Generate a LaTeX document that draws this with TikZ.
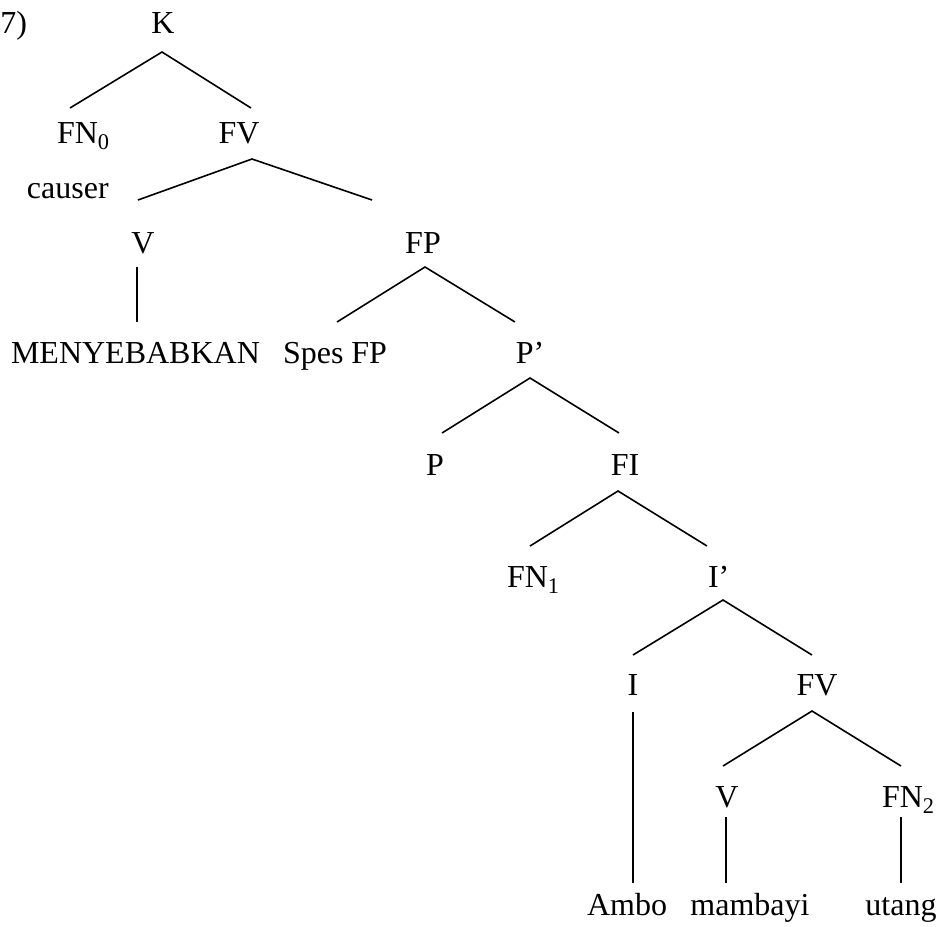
\documentclass[tikz,border=0pt]{standalone}
\usepackage{fontspec}
\setmainfont{Liberation Serif}
\begin{document}
\begin{tikzpicture}[x=1pt,y=-1pt,
  lbl/.style={inner sep=0pt,outer sep=0pt,font=\fontsize{32}{38}\selectfont,anchor=base},
  lblw/.style={lbl,anchor=base west},
  branch/.style={line width=1.6pt,line cap=butt}]
\useasboundingbox (0,0) rectangle (942,926);

% labels
\node[lblw] (num) at (0.5,33) {7)};
\node[lbl] (K) at (163,33) {K};
\node[lblw] (FN0) at (57,143) {FN\textsubscript{0}};
\node[lbl] (FVa) at (239,143) {FV};
\node[lblw] (causer) at (27,198) {causer};
\node[lbl] (Va) at (143,253) {V};
\node[lbl] (FP) at (423,253) {FP};
\node[lblw] (MEN) at (11,363) {MENYEBABKAN};
\node[lblw] (Spes) at (283,363) {Spes FP};
\node[lbl] (Pbar) at (530,363) {P’};
\node[lbl] (P) at (435,475) {P};
\node[lbl] (FI) at (625,475) {FI};
\node[lblw] (FN1) at (507,587) {FN\textsubscript{1}};
\node[lblw] (Ibar) at (708,587) {I’};
\node[lbl] (I) at (633,695) {I};
\node[lbl] (FVb) at (817,695) {FV};
\node[lbl] (Vb) at (727,807) {V};
\node[lblw] (FN2) at (882,807) {FN\textsubscript{2}};
\node[lbl] (Ambo) at (627,915) {Ambo};
\node[lbl] (mambayi) at (750,915) {mambayi};
\node[lbl] (utang) at (901,915) {utang};

% connector end points
\coordinate (K-b) at (162,52);
\coordinate (FN0-t) at (70,108);
\coordinate (FVa-t) at (251,108);
\coordinate (FVa-b) at (252,159);
\coordinate (Va-t) at (138,200);
\coordinate (FP-t) at (372,200);
\coordinate (Va-b) at (137,267);
\coordinate (MEN-t) at (137,322);
\coordinate (FP-b) at (425,267);
\coordinate (Spes-t) at (337,322);
\coordinate (Pbar-t) at (515,322);
\coordinate (Pbar-b) at (530,378);
\coordinate (P-t) at (442,433);
\coordinate (FI-t) at (619,433);
\coordinate (FI-b) at (618,491);
\coordinate (FN1-t) at (530,546);
\coordinate (Ibar-t) at (707,546);
\coordinate (Ibar-b) at (723,600);
\coordinate (I-t) at (633,655);
\coordinate (FVb-t) at (812,655);
\coordinate (I-b) at (633,712);
\coordinate (Ambo-t) at (633,883);
\coordinate (FVb-b) at (812,711);
\coordinate (Vb-t) at (723,766);
\coordinate (FN2-t) at (901,766);
\coordinate (Vb-b) at (726,817);
\coordinate (mambayi-t) at (726,883);
\coordinate (FN2-b) at (901,817);
\coordinate (utang-t) at (901,883);

% branches
\draw[branch] (FN0-t) -- (K-b) -- (FVa-t);
\draw[branch] (Va-t) -- (FVa-b) -- (FP-t);
\draw[branch] (Va-b) -- (MEN-t);
\draw[branch] (Spes-t) -- (FP-b) -- (Pbar-t);
\draw[branch] (P-t) -- (Pbar-b) -- (FI-t);
\draw[branch] (FN1-t) -- (FI-b) -- (Ibar-t);
\draw[branch] (I-t) -- (Ibar-b) -- (FVb-t);
\draw[branch] (I-b) -- (Ambo-t);
\draw[branch] (Vb-t) -- (FVb-b) -- (FN2-t);
\draw[branch] (Vb-b) -- (mambayi-t);
\draw[branch] (FN2-b) -- (utang-t);
\end{tikzpicture}
\end{document}
